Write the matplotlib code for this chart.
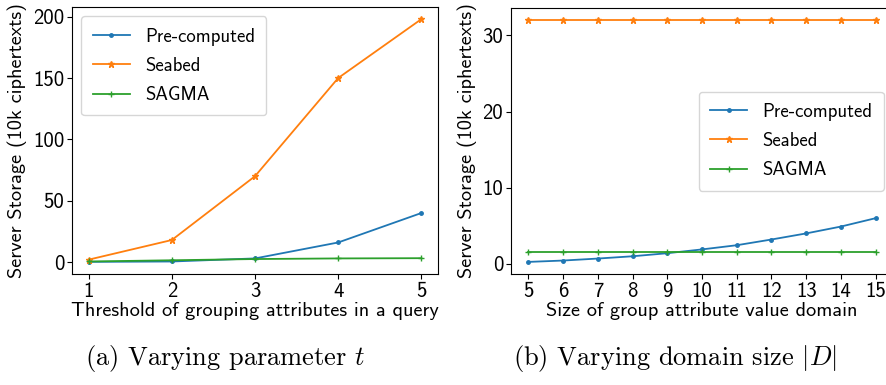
import matplotlib
matplotlib.use("Agg")
import matplotlib.pyplot as plt

plt.rcParams['axes.unicode_minus'] = False
plt.rcParams['mathtext.fontset'] = 'cm'

# Panel (a)
t_vals = [1, 2, 3, 4, 5]
a_precomputed = [0.2, 0.5, 3.0, 16.0, 40.0]
a_seabed = [2.0, 18.0, 70.0, 150.0, 198.0]
a_sagma = [0.5, 1.5, 2.5, 3.0, 3.2]

# Panel (b)
d_vals = [5, 6, 7, 8, 9, 10, 11, 12, 13, 14, 15]
b_precomputed = [0.26, 0.44, 0.7, 1.0, 1.4, 1.9, 2.45, 3.2, 4.0, 4.9, 6.0]
b_seabed = [32.0] * 11
b_sagma = [1.6] * 11

series_names = ["Pre-computed", "Seabed", "SAGMA"]
xlabels = ["Threshold of grouping attributes in a query", "Size of group attribute value domain"]
ylabel = "Server Storage (10k ciphertexts)"
captions = [r"(a) Varying parameter $t$", r"(b) Varying domain size $|D|$"]

W, H = 886, 385
fig = plt.figure(figsize=(W / 100, H / 100), dpi=100)

def box(l, r, t, b):
    return [l / W, (H - b) / H, (r - l) / W, (b - t) / H]

ax1 = fig.add_axes(box(72, 438, 7, 274))
ax2 = fig.add_axes(box(511, 893, 8, 274))

SANS = 'cmss10'
SERIF = 'cmr10'
tick_fs = 15
lab_fs = 14.6
leg_fs = 13.5

colors = ['#1f77b4', '#ff7f0e', '#2ca02c']
markers = ['.', '*', '+']

for ax, x, ys, xl, loc in [
    (ax1, t_vals, [a_precomputed, a_seabed, a_sagma], xlabels[0], 'upper left'),
    (ax2, d_vals, [b_precomputed, b_seabed, b_sagma], xlabels[1], 'center right'),
]:
    for y, name, c, m in zip(ys, series_names, colors, markers):
        ax.plot(x, y, color=c, marker=m, markersize=5, linewidth=1.3, label=name)
    ax.set_xticks(x)
    ax.set_xlabel(xl, fontsize=lab_fs, fontfamily=SANS, labelpad=1)
    ax.set_ylabel(ylabel, fontsize=lab_fs, fontfamily=SANS, labelpad=4)
    ax.tick_params(pad=2)
    ax.legend(loc=loc, prop={'family': SANS, 'size': leg_fs}, handlelength=2.0,
              borderpad=0.6, labelspacing=0.6, handletextpad=0.8)

ax1.set_yticks([0, 50, 100, 150, 200])
ax2.set_yticks([0, 10, 20, 30])
for ax in (ax1, ax2):
    for lbl in ax.get_xticklabels() + ax.get_yticklabels():
        lbl.set_fontfamily(SANS)
        lbl.set_fontsize(tick_fs)

fig.text(225 / W, 1 - 359 / H, captions[0], fontsize=19, fontfamily=SERIF, ha='center', va='center')
fig.text(675 / W, 1 - 359 / H, captions[1], fontsize=19, fontfamily=SERIF, ha='center', va='center')

fig.savefig("out.png", dpi=100)
